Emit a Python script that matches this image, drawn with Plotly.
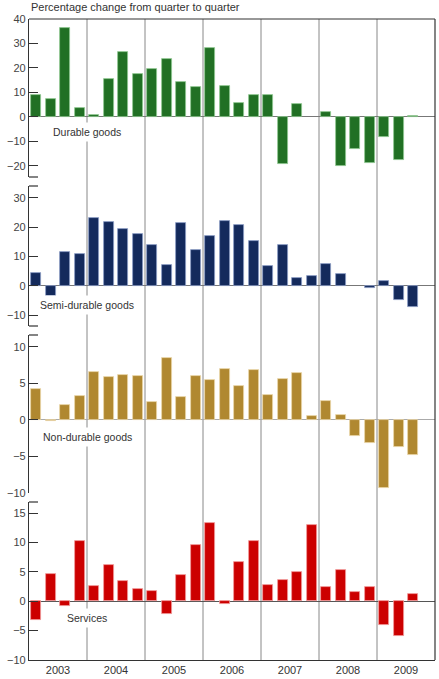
import plotly.graph_objects as go
from plotly.subplots import make_subplots

years = ["2003", "2004", "2005", "2006", "2007", "2008", "2009"]
quarters = ["Q1", "Q2", "Q3", "Q4"]

durable = [9.0, 7.2, 36.3, 3.7,
           0.8, 15.6, 26.5, 17.6,
           19.5, 23.5, 14.1, 12.2,
           28.3, 12.7, 5.6, 8.9,
           9.0, -19.4, 5.3, None,
           1.9, -19.9, -13.2, -18.8,
           -8.2, -17.7, 0.4, None]
semi_durable = [4.5, -3.5, 11.5, 10.8,
                23.1, 21.7, 19.5, 17.7,
                13.75, 7.0, 21.25, 12.2,
                16.8, 22.2, 20.7, 15.3,
                6.6, 13.75, 2.6, 3.4,
                7.3, 3.9, None, -0.8,
                1.6, -4.8, -7.2, None]
non_durable = [4.2, -0.1, 2.05, 3.3,
               6.5, 5.8, 6.1, 6.05,
               2.45, 8.4, 3.1, 5.95,
               5.45, 7.0, 4.6, 6.85,
               3.45, 5.55, 6.4, 0.55,
               2.6, 0.7, -2.15, -3.15,
               -9.35, -3.7, -4.85, None]
services = [-3.25, 4.7, -0.8, 10.2,
            2.6, 6.25, 3.45, 2.1,
            1.75, -2.15, 4.4, 9.55,
            13.4, -0.55, 6.65, 10.3,
            2.85, 3.6, 5.05, 12.95,
            2.35, 5.3, 1.6, 2.35,
            -4.1, -5.85, 1.3, None]

panel_names = ["Durable goods", "Semi-durable goods", "Non-durable goods", "Services"]
series = [durable, semi_durable, non_durable, services]
colors = ["#217024", "#142a5c", "#b08830", "#cc0000"]
edge_colors = ["#8fc890", "#8c9cc4", "#ead7a8", "#f09a9a"]
ranges = [[-24.6, 40], [-13.7, 34], [-10, 11.6], [-10, 16.9]]
tickvals = [[-20, -10, 0, 10, 20, 30, 40], [-10, 0, 10, 20, 30],
            [-10, -5, 0, 5, 10], [-10, -5, 0, 5, 10, 15]]
label_y = [-6.1, -6.6, -2.4, -2.9]
zero_colors = ["#777777", "#777777", "#aaaaaa", "#555555"]

H = 641.0
def py(pix):
    return (660 - pix) / H

domains = [[py(177), 1.0], [py(326), py(186)], [py(493), py(335)], [0.0, py(502)]]

x = list(range(len(years) * len(quarters)))

fig = make_subplots(rows=4, cols=1, shared_xaxes=True, vertical_spacing=0.01)

font_family = "Liberation Sans, Arial, sans-serif"
for i in range(4):
    fig.add_trace(go.Bar(x=x, y=series[i], width=0.72,
                         marker=dict(color=colors[i],
                                     line=dict(color=edge_colors[i], width=0.8)),
                         showlegend=False, hoverinfo="y"),
                  row=i + 1, col=1)
    yname = "yaxis" if i == 0 else f"yaxis{i+1}"
    fig.layout[yname].update(domain=domains[i], range=ranges[i], tickvals=tickvals[i],
                             ticks="inside", ticklen=9, tickcolor="#333333",
                             showline=True, linecolor="#333333", linewidth=1.2,
                             showgrid=False, zeroline=True, zerolinecolor=zero_colors[i],
                             zerolinewidth=1, tickfont=dict(size=11, color="#444444"),
                             fixedrange=True)
    xname = "xaxis" if i == 0 else f"xaxis{i+1}"
    fig.layout[xname].update(range=[-0.5, 27.5], showgrid=False, zeroline=False,
                             showticklabels=False, ticks="", fixedrange=True)
    fig.add_annotation(x=3.5, y=label_y[i], xref=f"x{i+1}" if i else "x",
                       yref=f"y{i+1}" if i else "y", text=panel_names[i],
                       showarrow=False, font=dict(size=10.5, color="#333333"),
                       bgcolor="white", borderpad=3)

fig.update_xaxes(showline=True, linecolor="#333333", linewidth=1.2,
                 tickvals=[1.5 + 4 * k for k in range(len(years))], ticktext=years,
                 showticklabels=True, tickfont=dict(size=11, color="#333333"),
                 row=4, col=1)

shapes = []
# year separators and right border
for k in range(1, len(years)):
    shapes.append(dict(type="line", xref="x", yref="paper", x0=4 * k - 0.5, x1=4 * k - 0.5,
                       y0=0, y1=1, line=dict(color="#888888", width=1), layer="below"))
shapes.append(dict(type="line", xref="paper", yref="paper", x0=1, x1=1, y0=0, y1=1,
                   line=dict(color="#333333", width=1.2)))
# top border
shapes.append(dict(type="line", xref="paper", yref="paper", x0=0, x1=1, y0=1, y1=1,
                   line=dict(color="#333333", width=1.2)))
# break marks on left axis
tick_w = 9 / 406.0
for pix in [177, 186, 326, 335, 502]:
    shapes.append(dict(type="line", xref="paper", yref="paper", x0=0, x1=tick_w,
                       y0=py(pix), y1=py(pix), line=dict(color="#333333", width=1.2)))
fig.update_layout(shapes=shapes)

fig.add_annotation(x=0, y=1, xref="paper", yref="paper", yshift=4,
                   text="Percentage change from quarter to quarter", showarrow=False,
                   xanchor="left", yanchor="bottom", font=dict(size=11, color="#333333"))

fig.update_layout(width=439, height=679, margin=dict(l=29, r=4, t=19, b=19),
                  paper_bgcolor="white", plot_bgcolor="white",
                  font=dict(family=font_family, color="#333333"), bargap=0)

fig.write_html("out.html", config={"displayModeBar": False},
               post_script="document.body.style.margin='0';document.body.style.overflow='hidden';")
